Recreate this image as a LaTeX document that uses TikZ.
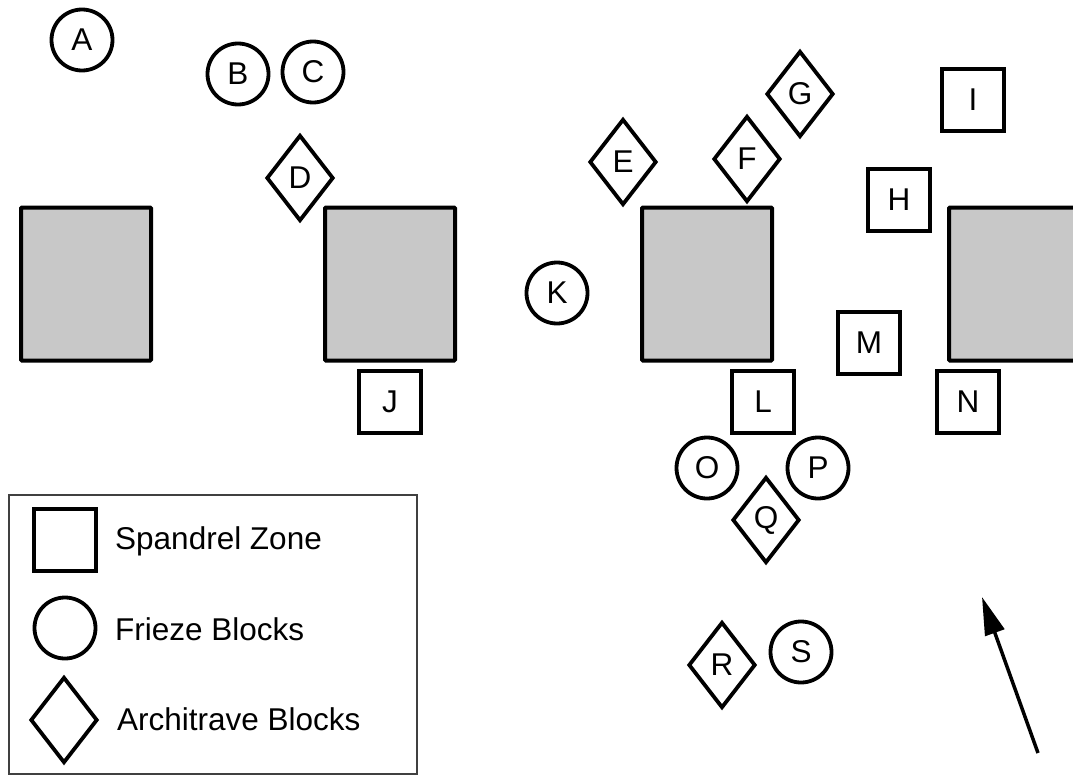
\documentclass[tikz,border=0pt]{standalone}
\usepackage{fontspec}
\setmainfont{Liberation Sans}
\usetikzlibrary{shapes.geometric,arrows.meta}
\definecolor{piergray}{RGB}{200,200,200}
\tikzset{
  zone/.style={draw,line width=3.8pt,minimum size=62pt,inner sep=0pt},
  frieze/.style={draw,circle,line width=3.8pt,minimum size=61pt,inner sep=0pt},
  archi/.style={draw,diamond,line width=3.8pt,minimum width=67pt,minimum height=86pt,inner sep=0pt},
  pier/.style={draw,fill=piergray,line width=4pt,minimum width=130pt,minimum height=153pt,rounded corners=1pt},
  legtext/.style={anchor=west,inner sep=0pt}
}
\begin{document}
\begin{tikzpicture}[x=1pt,y=-1pt,font=\fontsize{31.5}{38}\selectfont]
    \useasboundingbox (0,0) rectangle (1073,776);
    \clip (0,0) rectangle (1073,776);
    % piers
    \node[pier] (pier1) at (86,284) {};
    \node[pier] (pier2) at (390,284) {};
    \node[pier] (pier3) at (707,284) {};
    \node[pier] (pier4) at (1014,284) {};
    % frieze blocks
    \node[frieze] (A) at (82,40) {A};
    \node[frieze] (B) at (238,74) {B};
    \node[frieze] (C) at (313,72) {C};
    \node[frieze] (K) at (557,293) {K};
    \node[frieze] (O) at (707,468) {O};
    \node[frieze] (P) at (818,468) {P};
    \node[frieze] (S) at (801,652) {S};
    % architrave blocks
    \node[archi] (D) at (300,178) {D};
    \node[archi] (E) at (623,162) {E};
    \node[archi] (F) at (747,159) {F};
    \node[archi] (G) at (800,94) {G};
    \node[archi] (Q) at (766,520) {Q};
    \node[archi] (R) at (722,665) {R};
    % spandrel zones
    \node[zone] (H) at (899,200) {H};
    \node[zone] (I) at (973,100) {I};
    \node[zone] (J) at (390,402) {J};
    \node[zone] (L) at (763,402) {L};
    \node[zone] (M) at (869,343) {M};
    \node[zone] (N) at (968,402) {N};
    % north arrow
    \coordinate (northtail) at (1038,753);
    \coordinate (northtip) at (982,597);
    \draw[line width=3.5pt,-{Triangle[length=38pt,width=20pt]}] (northtail) -- (northtip);
    % legend
    \draw[line width=1.5pt,black!75] (9,495) rectangle (417,774);
    \node[zone] (legzone) at (65,540) {};
    \node[frieze] (legfrieze) at (65,628) {};
    \node[archi] (legarchi) at (64,720) {};
    \node[legtext] (legzonetext) at (115,541) {Spandrel Zone};
    \node[legtext] (legfriezetext) at (115,629) {Frieze Blocks};
    \node[legtext] (legarchitext) at (117,719) {Architrave Blocks};
  \end{tikzpicture}
\end{document}
